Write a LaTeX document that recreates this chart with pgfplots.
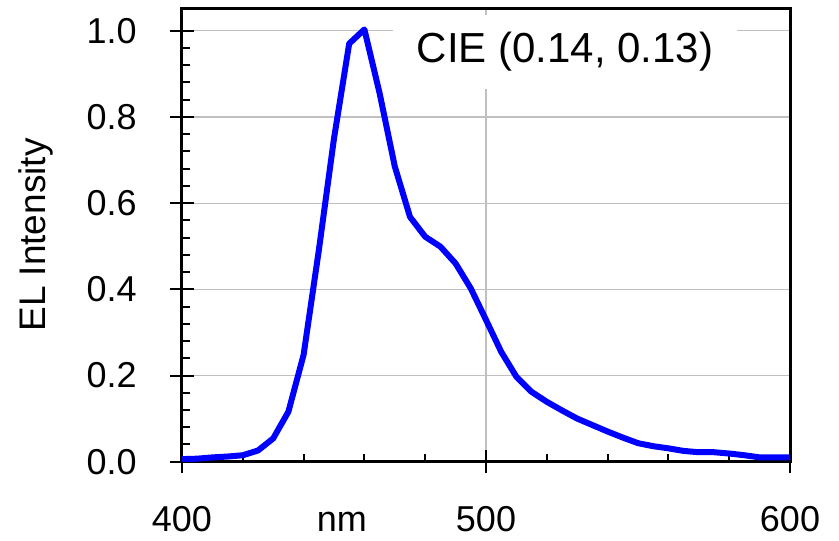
\documentclass[border=0pt]{standalone}
\usepackage{fontspec}
\setmainfont{Liberation Sans}
\usepackage{pgfplots}
\pgfplotsset{compat=1.18}
\pgfplotstableread{
x y
400 0.006
405 0.007
410 0.010
415 0.012
420 0.015
425 0.026
430 0.054
435 0.116
440 0.248
445 0.49
450 0.75
455 0.970
460 1.003
465 0.855
470 0.685
475 0.568
480 0.522
485 0.499
490 0.460
495 0.402
500 0.329
505 0.255
510 0.197
515 0.162
520 0.139
525 0.119
530 0.100
535 0.085
540 0.070
545 0.056
550 0.043
555 0.036
560 0.031
565 0.025
570 0.022
575 0.022
580 0.019
585 0.015
590 0.010
595 0.010
600 0.010
}\eldata
\definecolor{gridgray}{RGB}{192,192,192}
\begin{document}
\begin{tikzpicture}
\begin{axis}[
  scale only axis,
  width=304pt, height=226.7pt,
  xmin=400, xmax=600, ymin=0, ymax=1.052,
  xtick={400,500,600},
  ytick={0,0.2,0.4,0.6,0.8,1.0},
  minor x tick num=4,
  minor y tick num=4,
  xtick pos=bottom, ytick pos=left,
  tick align=inside,
  major tick length=11.5pt,
  minor tick length=4pt,
  every major x tick/.append style={yshift=-5.75pt},
  every major y tick/.append style={xshift=-5.75pt},
  tick style={black, line width=1pt},
  axis line style={black, line width=1.5pt},
  grid=major,
  major grid style={gridgray, line width=0.6pt},
  xtick={400,500,600},
  /pgf/number format/assume math mode=true,
  yticklabel={\pgfmathprintnumber[fixed,fixed zerofill,precision=1]{\tick}},
  xticklabel style={font=\fontsize{18}{21}\selectfont, anchor=base, inner sep=0pt, yshift=-35pt},
  yticklabel style={font=\fontsize{18}{21}\selectfont, anchor=east, inner sep=0pt, xshift=-22.5pt},
  xlabel={nm},
  xlabel style={at={(axis description cs:0.263,0)}, anchor=base, inner sep=0pt, yshift=-35pt, font=\fontsize{18}{21}\selectfont},
  ylabel={EL Intensity},
  ylabel style={at={(axis description cs:-0.24,0.5)}, anchor=center, inner sep=0pt, font=\fontsize{18.5}{22}\selectfont},
]
\addplot[color={rgb,255:red,0;green,0;blue,255}, line width=3pt, line join=round] table[x=x,y=y]{\eldata};
\node[fill=white, inner sep=0pt, minimum width=172pt, minimum height=37pt, font=\fontsize{21}{25}\selectfont]
  at (axis description cs:0.63,0.9036) {CIE (0.14, 0.13)};
\coordinate (bl) at (rel axis cs:0,0);
\coordinate (tr) at (rel axis cs:1,1);
\end{axis}
\pgfresetboundingbox
\path ([shift={(-91pt,-39.15pt)}]bl) rectangle ([shift={(24.5pt,4.15pt)}]tr);
\end{tikzpicture}
\end{document}
